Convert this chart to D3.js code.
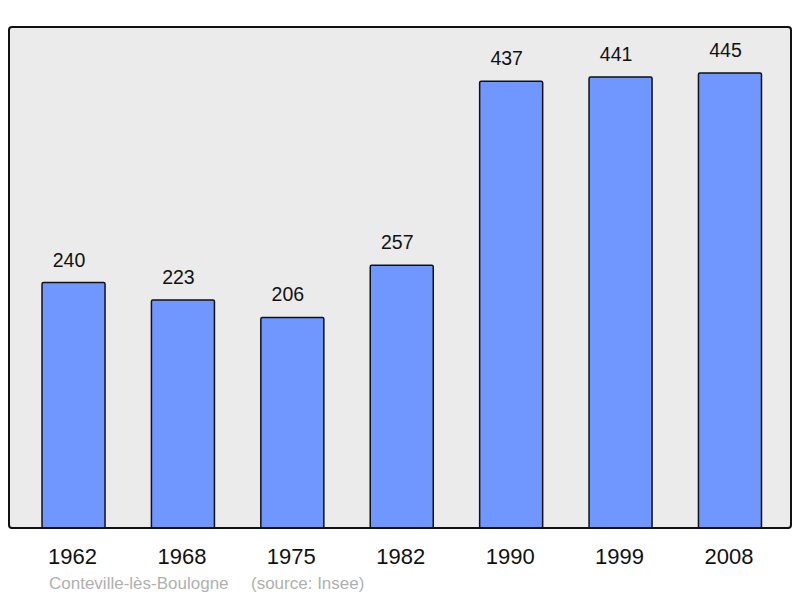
<!DOCTYPE html>
<html>
<head>
<meta charset="utf-8">
<script src="https://cdn.jsdelivr.net/npm/d3@7"></script>
<style>
  body { margin: 0; background: #fff; }
  svg text { font-family: "Liberation Sans", Arial, sans-serif; }
</style>
</head>
<body>
<div class="chart-container"></div>
<script>
//! DATA
const years = ['1962', '1968', '1975', '1982', '1990', '1999', '2008'];
const population = [240, 223, 206, 257, 437, 441, 445];
const captionPlace = 'Conteville-lès-Boulogne';
const captionSource = '(source: Insee)';

//! CONSTS
const width = 800;
const height = 598;
const panel = { left: 9, top: 27, right: 791, bottom: 528 };

const svg = d3.select('.chart-container')
  .append('svg')
  .attr('width', width)
  .attr('height', height);

//! SCALES
const xScale = d3.scaleBand()
  .domain(years)
  .range([9.2, 794.3])
  .paddingInner(0.424)
  .paddingOuter(0.3);

const yScale = d3.scaleLinear()
  .domain([0, 490])
  .range([panel.bottom, panel.top]);

//! PANEL
svg.append('rect')
  .attr('x', panel.left)
  .attr('y', panel.top)
  .attr('width', panel.right - panel.left)
  .attr('height', panel.bottom - panel.top)
  .attr('rx', 3)
  .attr('fill', '#ebebeb')
  .attr('stroke', '#111')
  .attr('stroke-width', 2);

//! BARS
const data = years.map((y, i) => ({ year: y, value: population[i] }));

svg.selectAll('.bar')
  .data(data)
  .enter()
  .append('rect')
  .attr('class', 'bar')
  .attr('x', d => xScale(d.year))
  .attr('y', d => yScale(d.value))
  .attr('width', xScale.bandwidth())
  .attr('height', d => panel.bottom - yScale(d.value))
  .attr('rx', 1.5)
  .attr('fill', '#7096ff')
  .attr('stroke', '#111')
  .attr('stroke-width', 1.5);

// redraw bottom border over the bars
svg.append('line')
  .attr('x1', panel.left + 2).attr('x2', panel.right - 2)
  .attr('y1', panel.bottom).attr('y2', panel.bottom)
  .attr('stroke', '#111')
  .attr('stroke-width', 2);

//! VALUE LABELS
svg.selectAll('.value')
  .data(data)
  .enter()
  .append('text')
  .attr('class', 'value')
  .attr('x', d => xScale(d.year) + xScale.bandwidth() / 2 - 4.5)
  .attr('y', d => yScale(d.value) - 16)
  .attr('text-anchor', 'middle')
  .attr('font-size', 19.5)
  .attr('fill', '#111')
  .text(d => d.value);

//! X AXIS (labels only)
const xAxis = d3.axisBottom(xScale).tickSize(0).tickPadding(0);
const gx = svg.append('g')
  .attr('transform', `translate(0,${panel.bottom})`)
  .call(xAxis);
gx.select('.domain').remove();
gx.selectAll('text')
  .attr('dy', null)
  .attr('x', -1)
  .attr('y', 36)
  .attr('font-size', 22)
  .attr('font-family', '"Liberation Sans", Arial, sans-serif')
  .attr('fill', '#111');

//! CAPTION
svg.append('text')
  .attr('x', 49)
  .attr('y', 589)
  .attr('font-size', 17)
  .attr('fill', '#b0b0b0')
  .text(captionPlace);

svg.append('text')
  .attr('x', 251)
  .attr('y', 589)
  .attr('font-size', 17)
  .attr('fill', '#b0b0b0')
  .text(captionSource);
</script>
</body>
</html>
